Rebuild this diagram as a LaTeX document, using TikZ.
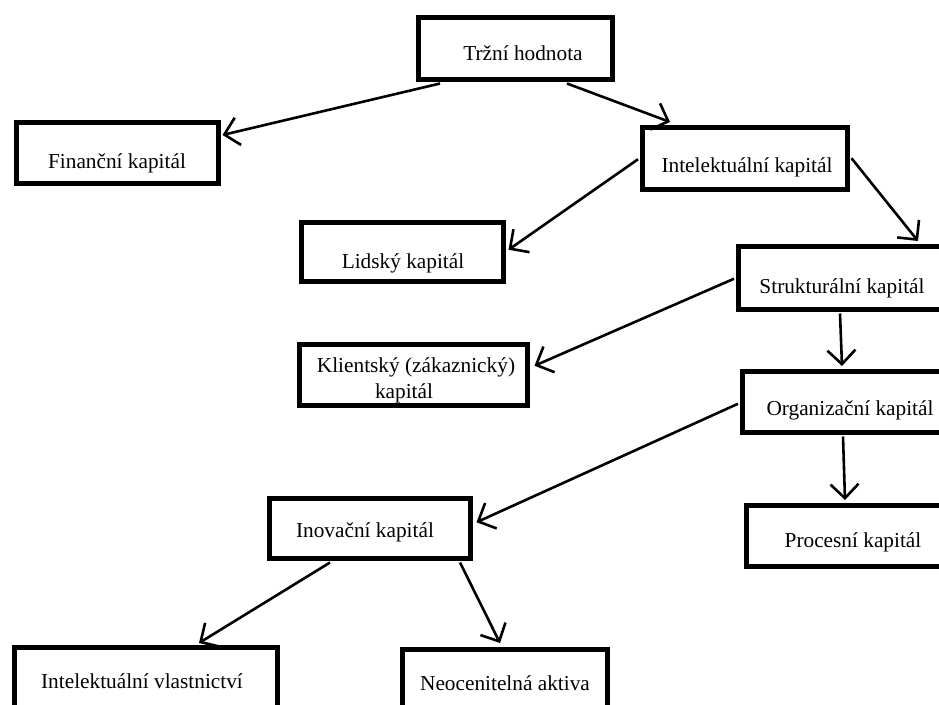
\documentclass[tikz,border=0pt]{standalone}
\usepackage{fontspec}
\setmainfont{Liberation Serif}
\usetikzlibrary{arrows.meta,calc}
\tikzset{
  box/.style={draw=black, line width=4.5pt, fill=white, rectangle, anchor=north west, inner sep=0pt},
  lbl/.style={anchor=base, inner sep=0pt, font=\fontsize{21.3}{25}\selectfont},
  conn/.style={line width=2.6pt, -{Straight Barb[length=14pt,width=28pt,line width=2.6pt]}}
}
\begin{document}
\begin{tikzpicture}[x=1pt,y=-1pt]
\useasboundingbox (0,0) rectangle (939,704);
\fill[white] (0,0) rectangle (939,704);
\clip (0,0) rectangle (939,704);
% boxes
\node[box, minimum width=194pt, minimum height=62pt] (T) at (416,15) {};
\node[box, minimum width=202pt, minimum height=61pt] (F) at (14,120) {};
\node[box, minimum width=205pt, minimum height=62pt] (I) at (640,125) {};
\node[box, minimum width=202pt, minimum height=59pt] (L) at (299,220) {};
\node[box, minimum width=230pt, minimum height=63pt] (S) at (736,244) {};
\node[box, minimum width=228pt, minimum height=61pt] (K) at (297,342) {};
\node[box, minimum width=230pt, minimum height=61pt] (O) at (740,369) {};
\node[box, minimum width=230pt, minimum height=61pt] (P) at (744,503) {};
\node[box, minimum width=201pt, minimum height=60pt] (N2) at (267,496) {};
\node[box, minimum width=263pt, minimum height=80pt] (IV) at (12,645) {};
\node[box, minimum width=205pt, minimum height=80pt] (NA) at (400,647) {};
% texts
\node[lbl] (Tt) at (523,60) {Tržní hodnota};
\node[lbl] (Ft) at (117,168) {Finanční kapitál};
\node[lbl] (It) at (747,172) {Intelektuální kapitál};
\node[lbl] (Lt) at (403,268) {Lidský kapitál};
\node[lbl] (St) at (842,293) {Strukturální kapitál};
\node[lbl] (Kt1) at (416,372) {Klientský (zákaznický)};
\node[lbl] (Kt2) at (404,398) {kapitál};
\node[lbl] (Ot) at (850,415) {Organizační kapitál};
\node[lbl] (Pt) at (853,547) {Procesní kapitál};
\node[lbl] (N2t) at (365,537) {Inovační kapitál};
\node[lbl] (IVt) at (142,688) {Intelektuální vlastnictví};
\node[lbl] (NAt) at (505,690) {Neocenitelná aktiva};
% connectors
\draw[conn] ($(T.south west)+(24,2)$) -- ($(F.north east)+(2,15)$);
\draw[conn] ($(T.south west)+(151,2)$) -- ($(I.north west)+(30,-3)$);
\draw[conn] ($(I.west)+(-2,1)$) -- ($(L.east)+(3,-2)$);
\draw[conn] ($(I.east)+(2,0)$) -- ($(S.north west)+(182,-3)$);
\draw[conn] ($(S.west)+(-2,1)$) -- ($(K.east)+(5,-9)$);
\draw[conn] ($(S.south west)+(104,2)$) -- ($(O.north west)+(102,-3)$);
\draw[conn] ($(O.west)+(-2,2)$) -- ($(N2.east)+(4,-6)$);
\draw[conn] ($(O.south west)+(103,2)$) -- ($(P.north west)+(101,-3)$);
\draw[conn] ($(N2.south west)+(63,2)$) -- ($(IV.north west)+(187,-2)$);
\draw[conn] ($(N2.south west)+(193,2)$) -- ($(NA.north west)+(100,-4)$);
\end{tikzpicture}
\end{document}
